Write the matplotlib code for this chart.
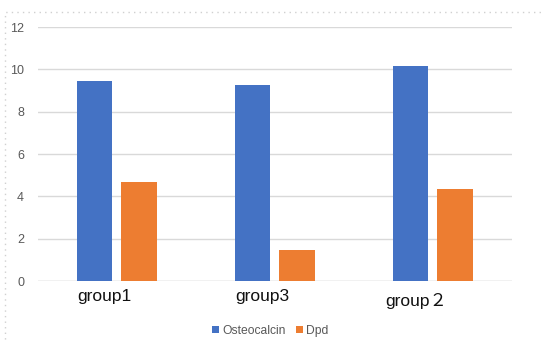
import numpy as np
import matplotlib.pyplot as plt
import matplotlib.transforms as mtransforms
from matplotlib.patches import Rectangle

groups = ['group1', 'group3', 'group\uff12']
osteocalcin = [9.45, 9.28, 10.16]
dpd = [4.69, 1.48, 4.36]
yticks = [0, 2, 4, 6, 8, 10, 12]

blue = '#4472C4'
orange = '#ED7D31'

plt.rcParams['font.family'] = ['Liberation Sans', 'Noto Sans CJK SC', 'DejaVu Sans']

fig = plt.figure(figsize=(5.45, 3.42), dpi=100)
W, H = 545, 342
ax = fig.add_axes([38 / W, 1 - 281 / H, 474 / W, 254 / H])

x = np.arange(len(groups))
w = 0.225
ax.bar(x - 0.142, osteocalcin, w, color=blue, label='Osteocalcin', zorder=3)
ax.bar(x + 0.139, dpd, w, color=orange, label='Dpd', zorder=3)

ax.set_xlim(-0.5, 2.5)
ax.set_ylim(0, 12)
ax.set_yticks(yticks)
ax.grid(axis='y', color='#D9D9D9', linewidth=1, zorder=0)
for s in ax.spines.values():
    s.set_visible(False)
ax.tick_params(axis='y', length=0, pad=10, labelsize=9, labelcolor='#595959')
ax.tick_params(axis='x', length=0, pad=6, labelsize=12.5, labelcolor='#111111')
ax.set_xticks(x)
ax.set_xticklabels(groups)

# labels sit a little left of the bar groups in the original
shifts = [-0.13, -0.13, -0.17]
drops = [0.0, 0.0, -0.04]
for lab, dx, dy in zip(ax.get_xticklabels(), shifts, drops):
    off = mtransforms.ScaledTranslation(dx, dy, fig.dpi_scale_trans)
    lab.set_transform(lab.get_transform() + off)

ax.axhline(0, color='#D9D9D9', linewidth=1, zorder=2)

leg = ax.legend(loc='upper center', bbox_to_anchor=(0.49, -0.13), ncol=2,
                frameon=False, fontsize=8.7, handlelength=0.6, handleheight=0.6,
                handletextpad=0.3, columnspacing=0.8, labelcolor='#595959')

# dotted frame of the original chart area
fig.patches.append(Rectangle((5 / W, -0.05), 1.0, 1 - 12 / H + 0.05,
                             transform=fig.transFigure, fill=False,
                             edgecolor='#D0D0D0', linestyle=(0, (1, 3)),
                             linewidth=1))

fig.savefig('out.png', dpi=100)
